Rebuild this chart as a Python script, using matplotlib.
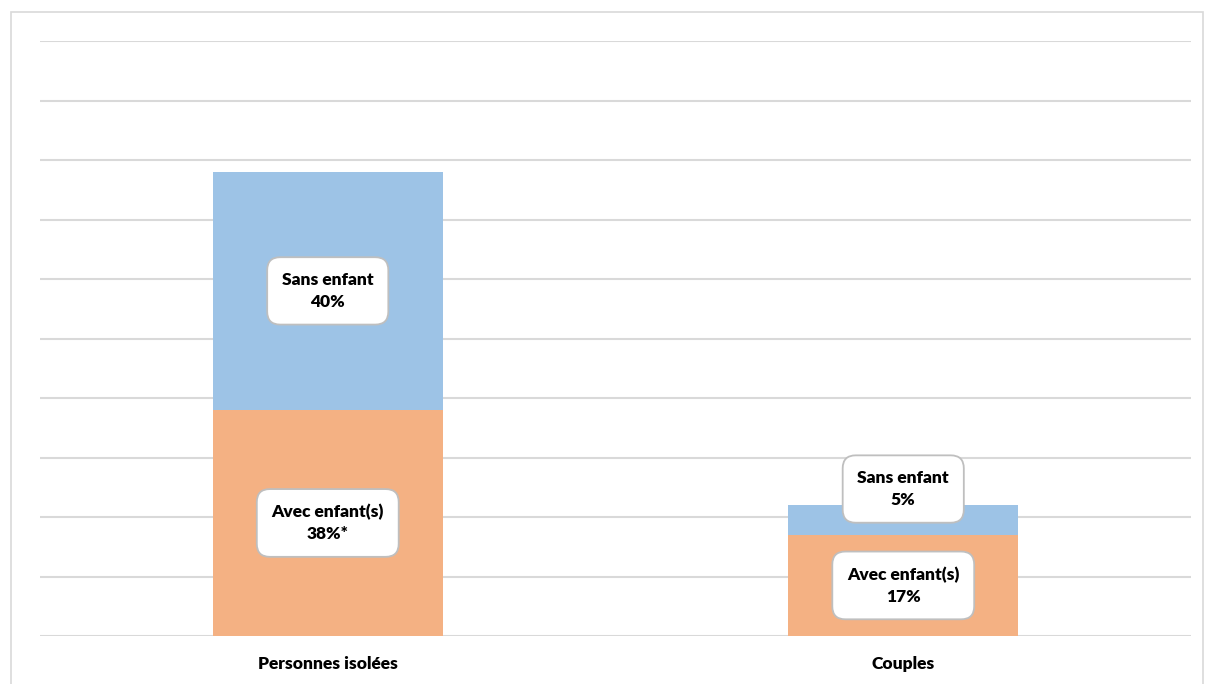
import matplotlib.pyplot as plt
import matplotlib.patches as mpatches
import numpy as np

plt.rcParams["font.family"] = ["Lato", "DejaVu Sans"]

# Data
categories = ["Personnes isolées", "Couples"]
avec = [38, 17]
sans = [40, 5]
avec_labels = ["Avec enfant(s)\n38%*", "Avec enfant(s)\n17%"]
sans_labels = ["Sans enfant\n40%", "Sans enfant\n5%"]

fig = plt.figure(figsize=(12.16, 6.84), dpi=100)
ax = fig.add_axes([40/1216, 1-636/684, 1151/1216, 595/684])

# outer frame like the excel chart area
fig.patches.append(mpatches.Rectangle((11/1216, -0.01), (1203-11)/1216, 1-12/684+0.01,
                                      transform=fig.transFigure, fill=False,
                                      edgecolor="#d9d9d9", linewidth=1.2))

x = np.arange(len(categories))
ax.bar(x, avec, width=0.4, color="#F4B183", zorder=2)
ax.bar(x, sans, width=0.4, bottom=avec, color="#9DC3E6", zorder=2)

ax.set_xlim(-0.5, 1.5)
ax.set_ylim(0, 100)
ax.set_yticks(np.arange(0, 101, 10))
ax.yaxis.grid(True, color="#d9d9d9", linewidth=1.5, zorder=0)
ax.tick_params(left=False, labelleft=False, bottom=False)
for s in ax.spines.values():
    s.set_visible(False)
ax.set_xticks(x)
ax.set_xticklabels(categories, fontsize=12.5, fontweight="heavy")
ax.tick_params(axis="x", pad=11)

box = dict(boxstyle="round,pad=0.85,rounding_size=0.75", facecolor="white",
           edgecolor="#bfbfbf", linewidth=1.3)

for i in range(len(categories)):
    ax.text(x[i], avec[i] / 2, avec_labels[i], ha="center", va="center",
            fontsize=12.5, fontweight="heavy", bbox=box, zorder=3, linespacing=1.45)
    ys = avec[i] + sans[i] / 2
    if sans[i] < 10:
        ys = avec[i] + sans[i] + 2.7
    ax.text(x[i], ys, sans_labels[i], ha="center", va="center",
            fontsize=12.5, fontweight="heavy", bbox=box, zorder=3, linespacing=1.45)

fig.savefig("out.png", dpi=100)
